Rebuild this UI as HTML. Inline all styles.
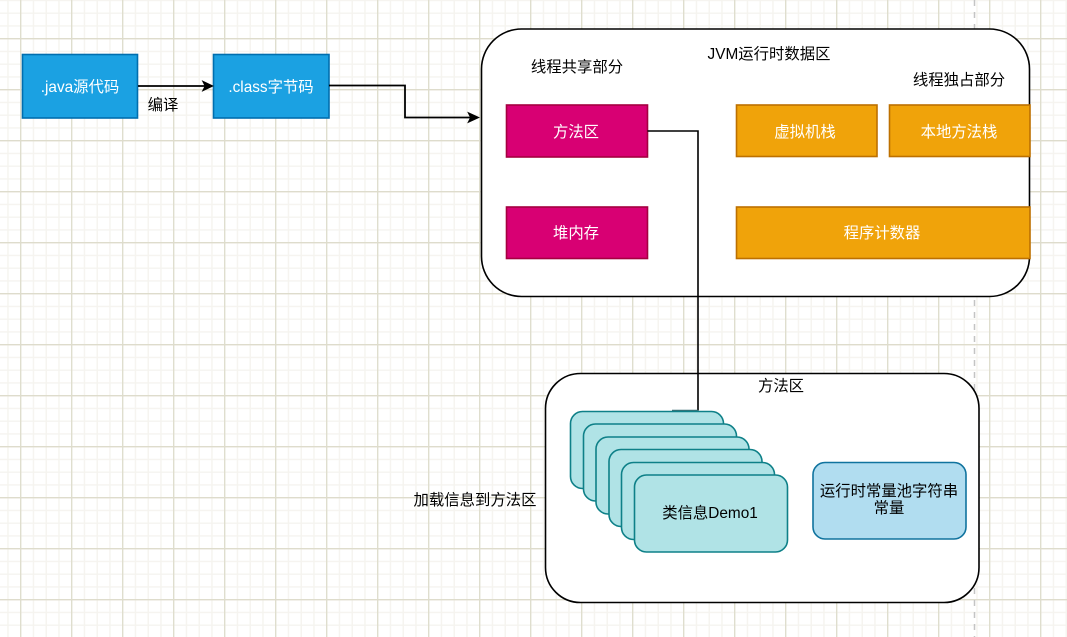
<!DOCTYPE html>
<html>
<head>
<meta charset="utf-8">
<style>
html,body{margin:0;padding:0;background:#fff;width:1067px;height:637px;overflow:hidden}
svg{display:block}
text{font-family:"Liberation Sans","WenQuanYi Zen Hei","Noto Sans CJK SC",sans-serif;font-size:15.36px;text-anchor:middle;fill:#000}
.w{fill:#fff}
</style>
</head>
<body>
<svg width="1067" height="637" viewBox="0 0 1067 637" xmlns="http://www.w3.org/2000/svg">
<defs>
<pattern id="minor" width="12.75" height="12.75" patternUnits="userSpaceOnUse" x="20" y="38">
<path d="M0.7 0V12.75M0 0.7H12.75" stroke="#f5f4ef" stroke-width="1.4" fill="none"/>
</pattern>
<pattern id="major" width="51" height="51" patternUnits="userSpaceOnUse" x="20" y="38">
<path d="M0.7 0V51M0 0.7H51" stroke="#dedccc" stroke-width="1.28" fill="none"/>
</pattern>
</defs>
<rect width="1067" height="637" fill="#fff"/>
<rect width="1067" height="637" fill="url(#minor)"/>
<rect width="1067" height="637" fill="url(#major)"/>
<line x1="974.5" y1="0" x2="974.5" y2="637" stroke="#c4c4c4" stroke-width="1.5" stroke-dasharray="6 6"/>

<rect x="481.500" y="29" width="548" height="267.500" rx="40" fill="#fff" stroke="#000" stroke-width="1.6"/>
<rect x="545.500" y="373.500" width="433.500" height="229" rx="35" fill="#fff" stroke="#000" stroke-width="1.6"/>

<rect x="22.500" y="54.500" width="115" height="63.500" fill="#1ba1e2" stroke="#006eaf" stroke-width="1.6"/>
<rect x="213.500" y="54.500" width="115.500" height="63.500" fill="#1ba1e2" stroke="#006eaf" stroke-width="1.6"/>
<text class="w" x="80" y="92">.java源代码</text>
<text class="w" x="271" y="92">.class字节码</text>

<path d="M138 86H206" fill="none" stroke="#000" stroke-width="1.8"/>
<path d="M213 86L202.500 81L205 86L202.500 91Z" fill="#000" stroke="#000" stroke-width="0.8"/>
<path d="M329 85.500H405V117.500H472" fill="none" stroke="#000" stroke-width="1.8"/>
<path d="M479 117.500L468 112.500L470.500 117.500L468 122.500Z" fill="#000" stroke="#000" stroke-width="0.8"/>
<text x="163" y="110">编译</text>

<rect x="506.500" y="105" width="141" height="52" fill="#d80073" stroke="#a50040" stroke-width="1.6"/>
<rect x="506.500" y="207" width="141" height="51.500" fill="#d80073" stroke="#a50040" stroke-width="1.6"/>
<text class="w" x="576" y="137">方法区</text>
<text class="w" x="576" y="238">堆内存</text>

<rect x="736.500" y="105" width="140.500" height="51.500" fill="#f0a30a" stroke="#bd7000" stroke-width="1.6"/>
<rect x="889.500" y="105" width="140.500" height="51.500" fill="#f0a30a" stroke="#bd7000" stroke-width="1.6"/>
<rect x="736.500" y="207" width="293.500" height="51.500" fill="#f0a30a" stroke="#bd7000" stroke-width="1.6"/>
<text class="w" x="805" y="137">虚拟机栈</text>
<text class="w" x="959" y="137">本地方法栈</text>
<text class="w" x="882" y="238">程序计数器</text>

<text x="769" y="59">JVM运行时数据区</text>
<text x="577" y="72">线程共享部分</text>
<text x="959" y="85">线程独占部分</text>
<text x="781" y="391">方法区</text>
<text x="475" y="505">加载信息到方法区</text>

<path d="M647.500 131H698V410.500" fill="none" stroke="#000" stroke-width="1.6"/>
<path d="M672 410.500H698" fill="none" stroke="#3f6f72" stroke-width="1.4"/>

<g fill="#b0e3e6" stroke="#0e8088" stroke-width="1.6">
<rect x="570.500" y="411.500" width="153" height="77" rx="12"/>
<rect x="583.500" y="424" width="153" height="77" rx="12"/>
<rect x="596" y="437" width="153" height="77" rx="12"/>
<rect x="609" y="449.500" width="153" height="77" rx="12"/>
<rect x="621.500" y="462.500" width="153" height="77" rx="12"/>
<rect x="634.500" y="475" width="153" height="77" rx="12"/>
</g>
<text x="710" y="518">类信息Demo1</text>

<rect x="813" y="462.500" width="153" height="76.500" rx="12" fill="#b1ddf0" stroke="#10739e" stroke-width="1.6"/>
<text x="889" y="496">运行时常量池字符串</text>
<text x="889" y="513">常量</text>
</svg>
</body>
</html>
